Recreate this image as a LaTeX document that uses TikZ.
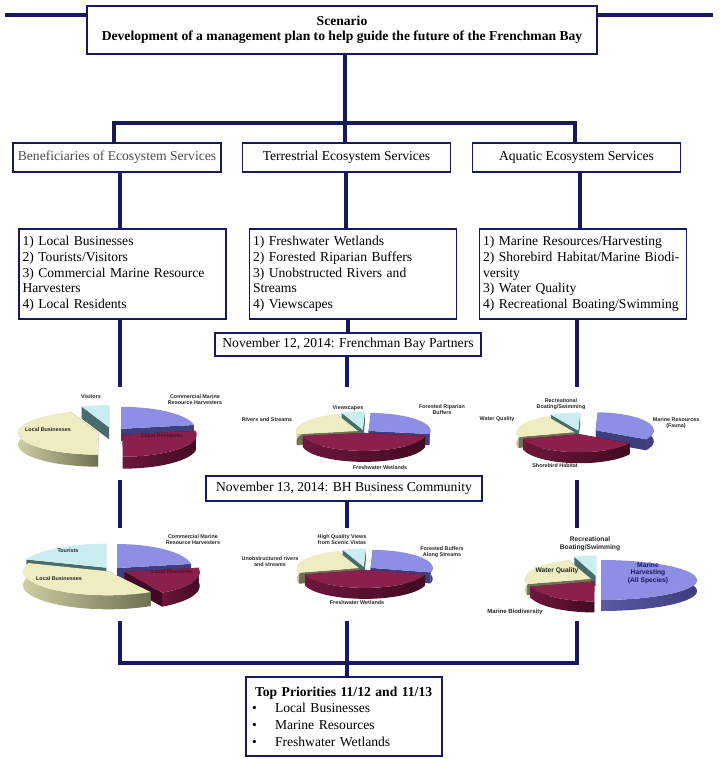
\documentclass[tikz,border=0pt]{standalone}
\usepackage{fontspec}
\setmainfont{Liberation Serif}
\newfontfamily\piefont{Liberation Sans}
\usetikzlibrary{calc}

\definecolor{navy}{RGB}{24,24,92}
\definecolor{yelT}{RGB}{238,236,192}
\definecolor{yelS}{RGB}{206,204,160}
\definecolor{yelR}{RGB}{112,112,82}
\definecolor{cyaT}{RGB}{202,238,240}
\definecolor{cyaS}{RGB}{120,160,162}
\definecolor{cyaR}{RGB}{72,108,108}
\definecolor{bluT}{RGB}{142,142,228}
\definecolor{bluS}{RGB}{90,90,166}
\definecolor{bluR}{RGB}{62,62,124}
\definecolor{marT}{RGB}{138,32,78}
\definecolor{marS}{RGB}{110,22,60}
\definecolor{marR}{RGB}{66,10,34}
\definecolor{resText}{RGB}{80,16,38}

% one slice of a 3D pie: centre x, centre y, start, end, explode, colour
\newcommand{\pieslice}[6]{%
  \pgfmathsetmacro\psx{#1+#5*cos((#3+#4)/2)}%
  \pgfmathsetmacro\psy{#2+#5*sin((#3+#4)/2)*\pry/\prx}%
  \fill[#6R] (\psx,\psy) -- ({\psx+\prx*cos(#3)},{\psy+\pry*sin(#3)}) -- ++(0,\ph) -- (\psx,{\psy+\ph}) -- cycle;
  \fill[#6R] (\psx,\psy) -- ({\psx+\prx*cos(#4)},{\psy+\pry*sin(#4)}) -- ++(0,\ph) -- (\psx,{\psy+\ph}) -- cycle;
  \begin{scope}
    \clip ({\psx-\prx-1},\psy) rectangle ({\psx+\prx+1},{\psy+\pry+\ph+1});
    \shade[left color=#6S,right color=#6R] plot[domain=#3:#4,samples=40] ({\psx+\prx*cos(\x)},{\psy+\pry*sin(\x)})
      -- plot[domain=#4:#3,samples=40] ({\psx+\prx*cos(\x)},{\psy+\pry*sin(\x)+\ph}) -- cycle;
  \end{scope}
  \fill[#6T] (\psx,\psy) -- plot[domain=#3:#4,samples=40] ({\psx+\prx*cos(\x)},{\psy+\pry*sin(\x)}) -- cycle;
}

\begin{document}
\begin{tikzpicture}[x=1pt,y=-1pt,font=\fontsize{13.6}{15.7}\selectfont]
\tikzset{
% boxes and thick connectors
box/.style={draw=navy,line width=1.8pt,fill=white,inner sep=0pt},
head box/.style={box,minimum width=208pt,minimum height=29pt},
list box/.style={box,text width=200pt,inner xsep=3.5pt,minimum height=90pt,align=left},
link/.style={draw=navy,line width=3.5pt},
% pie labels
lbl/.style={font=\piefont\bfseries\fontsize{5.4}{6.1}\selectfont,align=center,inner sep=0pt,text=black!85},
big lbl/.style={lbl,font=\piefont\bfseries\fontsize{6.7}{7.6}\selectfont}
}
\fill[white] (0,0) rectangle (720,759);
\useasboundingbox (0,0) rectangle (720,759);

% The boxes
\node[box,minimum width=510pt,minimum height=48pt,align=center,font=\fontsize{13.6}{15}\selectfont\bfseries] (scen) at (342,30)
{Scenario\\Development of a management plan to help guide the future of the Frenchman Bay};
\node[head box,text=black!70] (h1) at (117,157.5) {Beneficiaries of Ecosystem Services};
\node[head box] (h2) at (346.5,157.5) {Terrestrial Ecosystem Services};
\node[head box] (h3) at (576.5,157.5) {Aquatic Ecosystem Services};
\node[list box] (l1) at (122.5,274) {1) Local Businesses\\2) Tourists/Visitors\\3) Commercial Marine Resource\\Harvesters\\4) Local Residents};
\node[list box] (l2) at (353,274) {1) Freshwater Wetlands\\2) Forested Riparian Buffers\\3) Unobstructed Rivers and\\Streams\\4) Viewscapes};
\node[list box] (l3) at (583,274) {1) Marine Resources/Harvesting\\2) Shorebird Habitat/Marine Biodi-\\versity\\3) Water Quality\\4) Recreational Boating/Swimming};
\node[box,minimum width=266pt,minimum height=23pt] (nov12) at (348,344.5) {November 12, 2014: Frenchman Bay Partners};
\node[box,minimum width=276pt,minimum height=25pt] (nov13) at (344,488.5) {November 13, 2014: BH Business Community};
\node[box,text width=184pt,inner xsep=6pt,minimum height=79pt,align=left,font=\fontsize{13.6}{16.7}\selectfont] (prio) at (344,716.5)
{\hspace*{3pt}\textbf{Top Priorities 11/12 and 11/13}\\
\makebox[23pt][l]{\textbullet}Local Businesses\\
\makebox[23pt][l]{\textbullet}Marine Resources\\
\makebox[23pt][l]{\textbullet}Freshwater Wetlands};

% free ends of the connectors
\coordinate (tl) at (5,15);
\coordinate (tr) at (713,15);
\coordinate (bar) at (345,123);
\coordinate (barL) at (114,0);
\coordinate (barR) at (575,0);
\coordinate (colA) at (120,0);
\coordinate (colB) at (346,0);
\coordinate (colC) at (580,0);
\coordinate (a1) at (120,387);
\coordinate (a2) at (120,480);
\coordinate (a3) at (120,528);
\coordinate (a4) at (120,621);
\coordinate (a5) at (120,663);
\coordinate (b1) at (347,387);
\coordinate (b3) at (347,528);
\coordinate (b4) at (347,621);
\coordinate (c1) at (577,387);
\coordinate (c2) at (577,480);
\coordinate (c3) at (577,528);
\coordinate (c4) at (577,621);
\coordinate (c5) at (577,663);

% connectors
\draw[link] (tl) -- (tl -| scen.west);
\draw[link] (tr) -- (tr -| scen.east);
\draw[link] (scen.south -| bar) -- (bar);
\draw[link] (h1.north -| barL) |- (bar) -| (h3.north -| barR);
\draw[link] (bar) -- (bar |- h2.north);
\draw[link] (h1.south -| colA) -- (l1.north -| colA);
\draw[link] (h2.south -| colB) -- (l2.north -| colB);
\draw[link] (h3.south -| colC) -- (l3.north -| colC);
\draw[link] (l1.south -| a1) -- (a1);
\draw[link] (a2) -- (a3);
\draw[link] (a4) -- (a5) -- (c5) -- (c4);
\draw[link] (l2.south -| nov12.north) -- (nov12.north);
\draw[link] (nov12.south -| b1) -- (b1);
\draw[link] (nov13.south -| b3) -- (b3);
\draw[link] (b4) -- (prio.north -| b4);
\draw[link] (l3.south -| c1) -- (c1);
\draw[link] (c2) -- (c3);

% pie 1: beneficiaries, 11/12
\def\prx{80}\def\pry{22}\def\ph{12}
\pieslice{112}{432}{250}{270}{18}{cya}
\def\prx{74}
\pieslice{112}{432}{270}{350}{14}{blu}
\def\prx{80}
\pieslice{112}{432}{90}{250}{14}{yel}
\def\prx{74}
\pieslice{112}{432}{-10}{90}{14}{mar}
\node[lbl] (p1vis) at (91,397) {Visitors};
\node[lbl] (p1com) at (195,400) {Commercial Marine\\Resource Harvesters};
\node[lbl] (p1bus) at (48,430) {Local Businesses};
\node[lbl,text=resText] (p1res) at (162,436) {Local Residents};

% pie 2: terrestrial, 11/12
\def\prx{62}\def\pry{18}\def\ph{11}
\pieslice{364}{432}{250}{272}{8}{cya}
\pieslice{364}{432}{272}{370}{6}{blu}
\pieslice{364}{432}{170}{250}{7}{yel}
\pieslice{364}{432}{10}{170}{3}{mar}
\node[lbl] (p2vie) at (348,408) {Viewscapes};
\node[lbl] (p2for) at (442,410) {Forested Riparian\\Buffers};
\node[lbl] (p2riv) at (267,420) {Rivers and Streams};
\node[lbl] (p2fre) at (380,468) {Freshwater Wetlands};

% pie 3: aquatic, 11/12
\def\prx{58}\def\pry{18}\def\ph{11}
\pieslice{580}{433}{242}{272}{8}{cya}
\pieslice{580}{433}{165}{242}{6}{yel}
\pieslice{580}{433}{-88}{30}{18}{blu}
\pieslice{580}{433}{30}{165}{4}{mar}
\node[lbl] (p3rec) at (561,404) {Recreational\\Boating/Swimming};
\node[lbl] (p3mar) at (676,423) {Marine Resources\\(Fauna)};
\node[lbl] (p3wat) at (497,419) {Water Quality};
\node[lbl] (p3sho) at (555,466) {Shorebird Habitat};

% pie 4: beneficiaries, 11/13
\def\prx{85}\def\pry{24}\def\ph{14}
\pieslice{112}{570}{200}{270}{10}{cya}
\def\prx{75}
\pieslice{112}{570}{270}{350}{8}{blu}
\pieslice{112}{570}{-10}{60}{14}{mar}
\def\prx{85}
\pieslice{112}{570}{60}{200}{6}{yel}
\node[lbl] (p4tou) at (68,551) {Tourists};
\node[lbl] (p4com) at (193,540) {Commercial Marine\\Resource Harvesters};
\node[lbl] (p4bus) at (59,579) {Local Businesses};
\node[lbl,text=resText] (p4res) at (172,572) {Local Residents};

% pie 5: terrestrial, 11/13
\def\prx{62}\def\pry{18}\def\ph{11}
\pieslice{365}{569}{250}{272}{8}{cya}
\pieslice{365}{569}{272}{375}{7}{blu}
\pieslice{365}{569}{165}{250}{7}{yel}
\pieslice{365}{569}{15}{165}{3}{mar}
\node[lbl] (p5hig) at (342,540) {High Quality Views\\from Scenic Vistas};
\node[lbl] (p5for) at (442,552) {Forested Buffers\\Along Streams};
\node[lbl] (p5unb) at (270,562) {Unobstructured rivers\\and streams};
\node[lbl] (p5fre) at (357,603) {Freshwater Wetlands};

% pie 6: aquatic, 11/13
\def\prx{62}\def\pry{20}\def\ph{11}
\pieslice{598}{580}{250}{270}{14}{cya}
\def\prx{66}
\pieslice{598}{580}{165}{250}{8}{yel}
\def\prx{96}
\pieslice{598}{580}{270}{450}{3}{blu}
\def\prx{66}
\pieslice{598}{580}{90}{165}{6}{mar}
\node[big lbl] (p6rec) at (590,544) {Recreational\\Boating/Swimming};
\node[big lbl,text=navy] (p6mar) at (648,573) {Marine\\Harvesting\\(All Species)};
\node[big lbl] (p6wat) at (557,571) {Water Quality};
\node[big lbl,font=\piefont\bfseries\fontsize{6}{7}\selectfont] (p6bio) at (515,612) {Marine Biodiversity};
\end{tikzpicture}
\end{document}
